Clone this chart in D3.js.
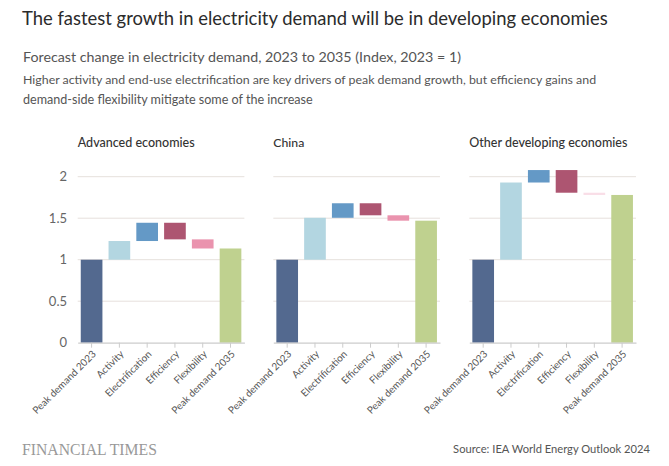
<!DOCTYPE html>
<html><head><meta charset="utf-8">
<script src="https://cdn.jsdelivr.net/npm/d3@7"></script>
<style>
body{margin:0;background:#fff;}
svg{display:block;font-family:Lato,"Open Sans",sans-serif;}
</style></head>
<body>
<svg id="c" width="669" height="466"></svg>
<script>
const categories = ["Peak demand 2023","Activity","Electrification","Efficiency","Flexibility","Peak demand 2035"];
const panels = ["Advanced economies","China","Other developing economies"];
const advanced = [1, 0.225, 0.22, -0.20, -0.11, 1.135];
const china = [1, 0.505, 0.175, -0.145, -0.065, 1.47];
const otherDev = [1, 0.93, 0.15, -0.273, -0.027, 1.78];
const yTicks = [0, 0.5, 1, 1.5, 2];
const colors = ["#53698f","#b3d6e1","#6499c6","#ad5571","#ea93ae","#bfd18f"];

const series = [advanced, china, otherDev];
const svg = d3.select("#c");

function fit(sel, w){
  const n = sel.node();
  let fs = parseFloat(sel.attr("font-size"));
  const len = n.getComputedTextLength();
  sel.attr("font-size", (fs * w / len).toFixed(2));
}

// Header texts
fit(svg.append("text").attr("x",22).attr("y",25).attr("font-size",19).attr("fill","#2b2b2b")
  .text("The fastest growth in electricity demand will be in developing economies"), 586);
fit(svg.append("text").attr("x",23).attr("y",62).attr("font-size",14).attr("fill","#555")
  .text("Forecast change in electricity demand, 2023 to 2035 (Index, 2023 = 1)"), 438);
fit(svg.append("text").attr("x",23).attr("y",84).attr("font-size",12).attr("fill","#555")
  .text("Higher activity and end-use electrification are key drivers of peak demand growth, but efficiency gains and"), 573);
fit(svg.append("text").attr("x",23).attr("y",104).attr("font-size",12).attr("fill","#555")
  .text("demand-side flexibility mitigate some of the increase"), 290);

const y = d3.scaleLinear().domain([0,2]).range([342.7,176.7]);
const panelX = [77.7, 273.3, 469.3];
const panelW = 166.7;
const titleW = [117, 31, 158];

series.forEach((vals, pi) => {
  const g = svg.append("g").attr("transform", `translate(${panelX[pi]},0)`);
  const x = d3.scaleBand().domain(categories).range([0,panelW]).paddingInner(0.22).paddingOuter(0.11);

  fit(g.append("text").attr("x",0).attr("y",147).attr("font-size",12.5).attr("fill","#333")
    .attr("font-weight",500).text(panels[pi]), titleW[pi]);

  // gridlines
  g.selectAll("line.grid").data(yTicks.filter(t=>t>0)).join("line")
    .attr("x1",0).attr("x2",panelW).attr("y1",d=>y(d)).attr("y2",d=>y(d))
    .attr("stroke","#e6e0dc").attr("stroke-width",1);

  if (pi === 0) {
    svg.selectAll("text.yt").data(yTicks).join("text").attr("class","yt")
      .attr("x",67).attr("y",d=>y(d)+4.5).attr("text-anchor","end")
      .attr("font-size",13).attr("fill","#666").text(d=>d3.format("~g")(d));
  }

  // waterfall segments
  let run = 0;
  const segs = vals.map((v,i) => {
    let lo, hi;
    if (i === 0 || i === vals.length-1) { lo = 0; hi = v; run = v; }
    else { const s = run; run = run + v; lo = Math.min(s, run); hi = Math.max(s, run); }
    return {cat: categories[i], lo, hi, c: colors[i], tiny: Math.abs(hi-lo) < 0.05};
  });
  g.selectAll("rect.bar").data(segs).join("rect")
    .attr("x", d=>x(d.cat)).attr("width", x.bandwidth())
    .attr("y", d=>y(d.hi)).attr("height", d=>Math.max(0.8, y(d.lo)-y(d.hi)))
    .attr("fill", d=>d.c).attr("fill-opacity", d=>d.tiny ? 0.3 : 1);

  // axis
  const ax = g.append("g").attr("transform",`translate(0,${y(0)})`)
    .call(d3.axisBottom(x).tickSize(5).tickSizeOuter(0));
  ax.select(".domain").attr("stroke","#ccc").attr("stroke-width",1.2);
  ax.selectAll(".tick line").attr("stroke","#ccc");
  ax.selectAll(".tick text").attr("font-family","Lato,'Open Sans',sans-serif")
    .attr("font-size",10).attr("fill","#555")
    .attr("text-anchor","end").attr("dy",0).attr("y",0)
    .attr("transform","translate(5,12) rotate(-45)");
});

fit(svg.append("text").attr("x",22).attr("y",455).attr("font-size",15).attr("fill","#999")
  .attr("font-family","'Liberation Serif',serif").text("FINANCIAL TIMES"), 135);
const src = svg.append("text").attr("x",650).attr("y",453).attr("font-size",11).attr("fill","#555")
  .attr("text-anchor","end").text("Source: IEA World Energy Outlook 2024");
fit(src, 197);
</script>
</body></html>
